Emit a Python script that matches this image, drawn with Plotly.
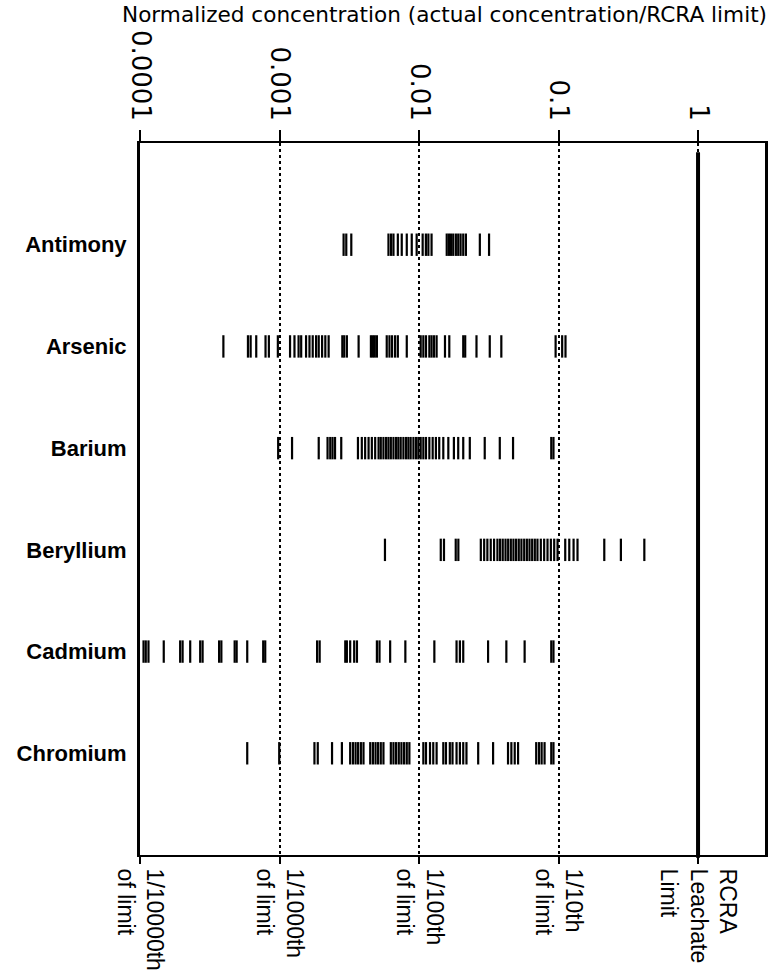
import plotly.graph_objects as go

elements = ["Antimony", "Arsenic", "Barium", "Beryllium", "Cadmium", "Chromium"]

antimony = [0.00288, 0.00301, 0.00327, 0.00604, 0.00631, 0.00656, 0.00705, 0.00752,
            0.00817, 0.00887, 0.00962, 0.01062, 0.0112, 0.01167, 0.0123, 0.0158,
            0.01637, 0.01694, 0.01758, 0.01837, 0.0191, 0.01986, 0.02075, 0.02168,
            0.02729, 0.03177]
arsenic = [0.000396, 0.000594, 0.000621, 0.000681, 0.000794, 0.000839, 0.000973,
           0.00119, 0.00128, 0.00137, 0.00143, 0.00155, 0.00164, 0.00173, 0.00183,
           0.00191, 0.00202, 0.00213, 0.00225, 0.00282, 0.00291, 0.00304, 0.00369,
           0.00452, 0.00467, 0.00482, 0.00499, 0.00587, 0.00614, 0.00641, 0.00674,
           0.00705, 0.00817, 0.01028, 0.01074, 0.01122, 0.01186, 0.0123, 0.0128,
           0.01337, 0.01535, 0.01648, 0.02075, 0.02143, 0.02582, 0.03214, 0.0389,
           0.0953, 0.1062, 0.1122]
barium = [0.000978, 0.00123, 0.00191, 0.00221, 0.00231, 0.0024, 0.0025, 0.00277,
          0.00365, 0.00389, 0.00411, 0.00435, 0.00459, 0.00485, 0.00513, 0.00532,
          0.00556, 0.00581, 0.00604, 0.00628, 0.00656, 0.00685, 0.00711, 0.00739,
          0.00773, 0.00807, 0.00839, 0.00871, 0.00912, 0.00952, 0.00989, 0.01028,
          0.01074, 0.01122, 0.01186, 0.01253, 0.01321, 0.01396, 0.01493, 0.01622,
          0.01778, 0.0191, 0.02075, 0.02312, 0.02958, 0.03793, 0.04721, 0.0887, 0.092]
beryllium = [0.0057, 0.01432, 0.0151, 0.01833, 0.01914, 0.02773, 0.02931, 0.0309,
             0.03266, 0.03451, 0.03648, 0.03811, 0.03981, 0.04169, 0.04355, 0.0455,
             0.04753, 0.04966, 0.05188, 0.0542, 0.05675, 0.05929, 0.06194, 0.06471,
             0.06761, 0.07063, 0.07464, 0.07889, 0.08337, 0.0881, 0.09311, 0.0984,
             0.1117, 0.1194, 0.1282, 0.1368, 0.2128, 0.2799, 0.4121]
cadmium = [0.000106, 0.00011, 0.000115, 0.000148, 0.000194, 0.000202, 0.000229,
           0.00027, 0.000281, 0.000369, 0.000383, 0.000477, 0.000493, 0.000587,
           0.000764, 0.00079, 0.00186, 0.00194, 0.00296, 0.00304, 0.00321, 0.00343,
           0.00359, 0.00499, 0.00521, 0.00621, 0.00798, 0.01288, 0.01858, 0.01963,
           0.02075, 0.03126, 0.04227, 0.05715, 0.0887, 0.092]
chromium = [0.000587, 0.000995, 0.00178, 0.00188, 0.00238, 0.0028, 0.00321, 0.00336,
            0.00351, 0.00366, 0.00383, 0.004, 0.00447, 0.00467, 0.00488, 0.00509,
            0.00532, 0.00556, 0.00628, 0.00656, 0.00685, 0.00716, 0.00748, 0.00782,
            0.00817, 0.00853, 0.01074, 0.01122, 0.01199, 0.01265, 0.01337, 0.01493,
            0.0156, 0.01663, 0.01738, 0.01858, 0.01963, 0.02075, 0.02188, 0.02655,
            0.03396, 0.04345, 0.04592, 0.04853, 0.05129, 0.06918, 0.07244, 0.07568,
            0.07943, 0.0887, 0.092]

series = [antimony, arsenic, barium, beryllium, cadmium, chromium]

tick_vals = [0.0001, 0.001, 0.01, 0.1, 1]
top_labels = ["0.0001", "0.001", "0.01", "0.1", "1"]
bottom_labels = ["1/10000th<br>of limit", "1/1000th<br>of limit", "1/100th<br>of limit",
                 "1/10th<br>of limit", "RCRA<br>Leachate<br>Limit"]
rcra_limit = 1
title_text = "Normalized concentration (actual concentration/RCRA limit)"

fig = go.Figure()
for name, vals in zip(elements, series):
    fig.add_trace(go.Scatter(
        x=vals, y=[name] * len(vals), mode="markers",
        marker=dict(symbol="line-ns", size=16, line=dict(width=2.2, color="black"), color="black"),
        hoverinfo="x+y", xaxis="x", yaxis="y"))

# invisible trace on bottom axis so it renders
fig.add_trace(go.Scatter(x=[rcra_limit], y=[elements[0]], mode="markers",
                         marker=dict(opacity=0), xaxis="x2", yaxis="y", hoverinfo="skip"))

font_fam = "DejaVu Sans"
arial = "Liberation Sans, Arial, sans-serif"
xr = [-4, 0.48]
fig.update_layout(
    width=782, height=977,
    margin=dict(l=140, r=17, t=143, b=122),
    plot_bgcolor="white", paper_bgcolor="white",
    showlegend=False,
    xaxis=dict(type="log", range=xr, side="top", tickvals=tick_vals, ticktext=top_labels,
               tickangle=90, ticks="outside", ticklen=11, tickwidth=1.5, tickcolor="black",
               showgrid=True, gridcolor="black", griddash="dot", gridwidth=2,
               showline=True, linecolor="black", linewidth=2, zeroline=False,
               automargin=False,
               tickfont=dict(family=font_fam, size=26, color="black")),
    xaxis2=dict(type="log", range=xr, side="bottom", overlaying="x", tickvals=tick_vals,
                ticktext=bottom_labels, tickangle=90, ticks="outside", ticklen=7,
                tickwidth=1.5, tickcolor="black", showgrid=False,
                showline=True, linecolor="black", linewidth=2, zeroline=False,
                automargin=False,
                tickfont=dict(family=arial, size=23, color="black")),
    yaxis=dict(type="category", categoryarray=elements, range=[6, -1],
               showline=True, linecolor="black", linewidth=3, mirror=True,
               ticks="", showgrid=False, ticklabelstandoff=6, automargin=False,
               tickfont=dict(family=arial, size=22, color="black", weight="bold")),
)

fig.add_shape(type="line", xref="x", yref="paper", x0=rcra_limit, x1=rcra_limit,
              y0=-0.004, y1=0.987, line=dict(color="black", width=4))

fig.add_annotation(text=title_text, xref="paper", yref="paper", x=0.4864, y=1.181,
                   showarrow=False, xanchor="center", yanchor="middle",
                   font=dict(family=font_fam, size=21.6, color="black"))

fig.write_html("out.html", config={"displayModeBar": False},
               post_script="document.body.style.margin='0px';")
